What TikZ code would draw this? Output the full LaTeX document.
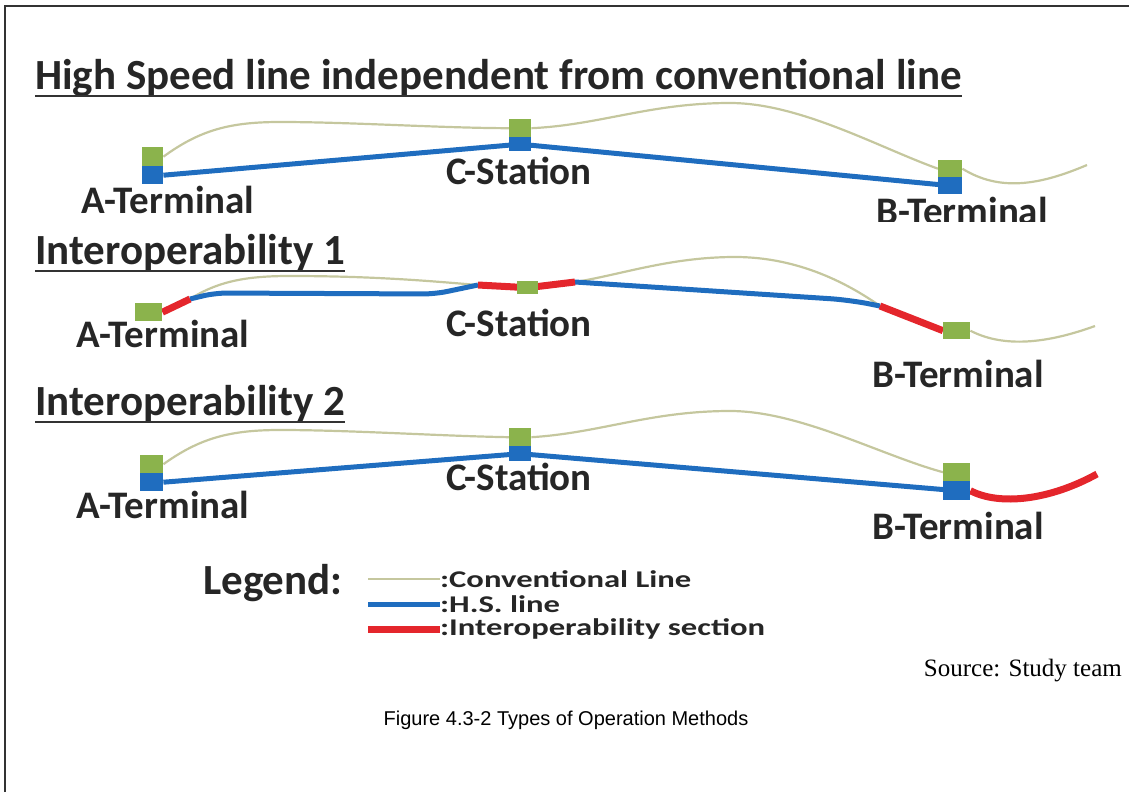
\documentclass[tikz,border=0pt]{standalone}
\usepackage{graphicx}
\usepackage{fontspec}
\setmainfont{Carlito}
\newfontfamily\arialf{Liberation Sans}
\newfontfamily\timesf{Liberation Serif}
\newcommand{\lgx}[1]{\scalebox{1.36}[1]{#1}}
\definecolor{conv}{HTML}{C5C79E}
\definecolor{stgreen}{HTML}{8BB34C}
\definecolor{hsblue}{HTML}{1F6DBF}
\definecolor{intred}{HTML}{E4262C}
\pgfdeclarelayer{bg}
\pgfsetlayers{bg,main}
\tikzset{
 convline/.style={conv, line width=2.2pt},
 hsline/.style={hsblue, line width=5pt},
 redline/.style={intred, line width=7pt},
 gbox/.style={fill=stgreen, draw=none, inner sep=0pt, anchor=north west},
 bbox/.style={fill=hsblue, draw=none, inner sep=0pt, anchor=north west},
 heading/.style={anchor=base west, inner sep=0pt, text=black!85, font=\bfseries\fontsize{43}{48}\selectfont},
 stlabel/.style={anchor=base, inner sep=0pt, text=black!85, font=\bfseries\fontsize{39}{44}\selectfont},
 legtext/.style={anchor=west, inner sep=0pt, text=black!85, font=\bfseries\fontsize{24}{26}\selectfont},
 uline/.style={black!80, line width=1.8pt},
}
\begin{document}
\begin{tikzpicture}[x=1pt,y=-1pt]
\useasboundingbox (0,0) rectangle (1129,792);
\draw[line width=1.5pt, black!80] (5,792) -- (5,6) -- (1129,6);

% headings
\node[heading] (h1) at (35,89) {High Speed line independent from conventional line};
\draw[uline] ([yshift=-7pt]h1.base west) -- ([yshift=-7pt]h1.base east);
\node[heading] (h2) at (35,264) {Interoperability 1};
\draw[uline] ([yshift=-7pt]h2.base west) -- ([yshift=-7pt]h2.base east);
\node[heading] (h3) at (35,415) {Interoperability 2};
\draw[uline] ([yshift=-7pt]h3.base west) -- ([yshift=-7pt]h3.base east);

% ---------- panel 1
\node[gbox, minimum width=21pt, minimum height=19pt] (a1g) at (142,147) {};
\node[bbox, minimum width=21pt, minimum height=18pt] (a1b) at (142,166) {};
\node[gbox, minimum width=22pt, minimum height=18pt] (c1g) at (509,119) {};
\node[bbox, minimum width=22pt, minimum height=14pt] (c1b) at (509,137) {};
\node[gbox, minimum width=24pt, minimum height=17pt] (b1g) at (938,160) {};
\node[bbox, minimum width=24pt, minimum height=17pt] (b1b) at (938,177) {};
\coordinate (e1) at (1087,165);
\begin{pgfonlayer}{bg}
\draw[convline] (a1g.east) .. controls (200,130) and (230,122) .. (280,122) .. controls (350,122) and (440,128) .. (c1g.west);
\draw[convline] (c1g.east) .. controls (600,125) and (650,103) .. (730,103) .. controls (800,103) and (880,148) .. (b1g.west);
\draw[convline] (b1g.east) .. controls (1000,192) and (1040,185) .. (e1);
\draw[hsline] (a1b.east) -- (c1b.center) -- (b1b.center);
\end{pgfonlayer}
\node[stlabel] (la1) at (168,213) {A-Terminal};
\node[stlabel] (lc1) at (519,184) {C-Station};
\begin{scope}
\clip (850,190) rectangle (1080,221);
\node[stlabel] (lb1) at (962,224) {B-Terminal};
\end{scope}

% ---------- panel 2
\node[gbox, minimum width=27pt, minimum height=18pt] (a2g) at (135,303) {};
\node[gbox, minimum width=21pt, minimum height=13pt] (c2g) at (517,281) {};
\node[gbox, minimum width=27pt, minimum height=17pt] (b2g) at (943,322) {};
\coordinate (p2a) at (190,299);
\coordinate (p2b) at (478,285);
\coordinate (p2c) at (575,282);
\coordinate (p2d) at (880,306);
\coordinate (e2) at (1095,326);
\begin{pgfonlayer}{bg}
\draw[convline] (p2a) .. controls (220,280) and (250,276) .. (290,276) .. controls (380,276) and (440,282) .. (p2b);
\draw[convline] (p2c) .. controls (620,275) and (670,257) .. (735,257) .. controls (800,257) and (850,285) .. (p2d);
\draw[convline] (b2g.east) .. controls (1000,346) and (1040,346) .. (e2);
\draw[hsline, rounded corners=12pt] (p2a) -- (215,293) -- (435,294) -- (p2b);
\draw[hsline, rounded corners=20pt] (p2c) -- (850,300) -- (p2d);
\draw[redline] (a2g.east) -- (p2a);
\draw[redline] (p2b) -- (c2g.center) -- (p2c);
\draw[redline] (p2d) -- (b2g.west);
\end{pgfonlayer}
\node[stlabel] (la2) at (163,347) {A-Terminal};
\node[stlabel] (lc2) at (519,336) {C-Station};
\node[stlabel] (lb2) at (958,387) {B-Terminal};

% ---------- panel 3
\node[gbox, minimum width=23pt, minimum height=18pt] (a3g) at (140,455) {};
\node[bbox, minimum width=23pt, minimum height=18pt] (a3b) at (140,473) {};
\node[gbox, minimum width=22pt, minimum height=18pt] (c3g) at (509,428) {};
\node[bbox, minimum width=22pt, minimum height=15pt] (c3b) at (509,446) {};
\node[gbox, minimum width=27pt, minimum height=18pt] (b3g) at (943,463) {};
\node[bbox, minimum width=27pt, minimum height=19pt] (b3b) at (943,481) {};
\coordinate (e3) at (1097,474);
\begin{pgfonlayer}{bg}
\draw[convline] (a3g.east) .. controls (200,438) and (230,430) .. (280,430) .. controls (350,430) and (440,436) .. (c3g.west);
\draw[convline] (c3g.east) .. controls (600,433) and (650,411) .. (730,411) .. controls (800,411) and (880,455) .. (b3g.west);
\draw[hsline] (a3b.east) -- (c3b.center) -- (b3b.center);
\draw[redline] (b3b.east) .. controls (1000,506) and (1050,500) .. (e3);
\end{pgfonlayer}
\node[stlabel] (la3) at (163,518) {A-Terminal};
\node[stlabel] (lc3) at (519,490) {C-Station};
\node[stlabel] (lb3) at (958,539) {B-Terminal};

% ---------- legend
\node[heading] (lg) at (203,594) {Legend:};
\node[legtext] (t1) at (440,579) {\lgx{:Conventional Line}};
\node[legtext] (t2) at (440,604) {\lgx{:H.S. line}};
\node[legtext] (t3) at (440,629) {\lgx{:Interoperability section}};
\coordinate (l1) at (368,579);
\coordinate (l2) at (368,604);
\coordinate (l3) at (368,629);
\draw[convline] (l1) -- (t1.west);
\draw[hsline] (l2) -- (t2.west);
\draw[redline] (l3) -- (t3.west);

% ---------- source and caption
\node[anchor=base east, inner sep=0pt, font=\timesf\fontsize{25}{28}\selectfont] (src) at (1122,676) {Source: Study team};
\node[inner sep=0pt, font=\arialf\fontsize{20}{24}\selectfont] (cap) at (566,720) {Figure 4.3-2 Types of Operation Methods};
\end{tikzpicture}
\end{document}
